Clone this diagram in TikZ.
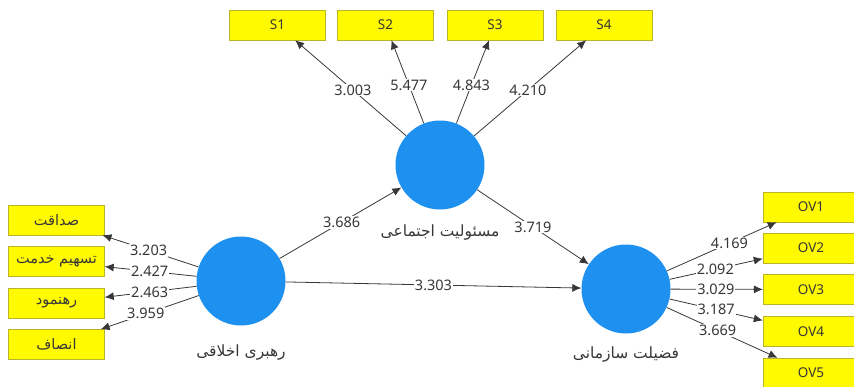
\documentclass[tikz,border=0pt]{standalone}
\usepackage{fontspec}
\setmainfont{Noto Sans}
\newfontfamily\farsi[Script=Arabic]{DejaVu Sans}
\TeXXeTstate=1
\usetikzlibrary{arrows.meta}
\definecolor{lvblue}{RGB}{30,144,240}
\definecolor{boxyellow}{RGB}{255,250,0}
\definecolor{boxedge}{RGB}{185,180,40}
\definecolor{inkgray}{RGB}{55,55,55}
\tikzset{
  latent/.style={circle, fill=lvblue, minimum size=89pt, inner sep=0pt},
  ind/.style={rectangle, fill=boxyellow, draw=boxedge, minimum width=96pt, minimum height=30pt, inner sep=0pt, font=\fontsize{13.5}{15}\selectfont, text=inkgray},
  indfa/.style={ind, font=\farsi\fontsize{14.5}{16}\selectfont},
  wt/.style={fill=white, inner sep=1pt, font=\fontsize{14.5}{16}\selectfont, text=inkgray},
  lvname/.style={font=\farsi\fontsize{15.5}{17}\selectfont, text=inkgray},
  path/.style={draw=inkgray, line width=0.8pt, -{Latex[length=9pt,width=8pt]}},
}
\begin{document}
\begin{tikzpicture}[x=1pt,y=1pt]
    \useasboundingbox (0,0) rectangle (854,-386);

    \node[latent] (lead) at (241,-281) {};
    \node[latent] (soc) at (440,-165) {};
    \node[latent] (virt) at (626,-289) {};

    \node[lvname] (leadname) at (241,-352) {\beginR رهبری اخلاقی\endR};
    \node[lvname] (socname) at (440,-232) {\beginR مسئولیت اجتماعی\endR};
    \node[lvname] (virtname) at (626,-354) {\beginR فضیلت سازمانی\endR};

    \node[ind] (s1) at (277.5,-25) {S1};
    \node[ind] (s2) at (385.5,-25) {S2};
    \node[ind] (s3) at (495,-25) {S3};
    \node[ind] (s4) at (604,-25) {S4};

    \node[indfa] (e1) at (56.5,-220) {\beginR صداقت\endR};
    \node[indfa] (e2) at (56.5,-261.5) {\beginR تسهیم خدمت\endR};
    \node[indfa] (e3) at (56.5,-303) {\beginR رهنمود\endR};
    \node[indfa] (e4) at (56.5,-344.5) {\beginR انصاف\endR};

    \node[ind] (ov1) at (811,-207) {OV1};
    \node[ind] (ov2) at (811,-248) {OV2};
    \node[ind] (ov3) at (811,-289.5) {OV3};
    \node[ind] (ov4) at (811,-331.5) {OV4};
    \node[ind] (ov5) at (811,-373) {OV5};

    % outer weights
    \draw[path] (soc) -- node[wt,pos=0.48] {3.003} (s1);
    \draw[path] (soc) -- node[wt,pos=0.46] {5.477} (s2);
    \draw[path] (soc) -- node[wt,pos=0.46] {4.843} (s3);
    \draw[path] (soc) -- node[wt,pos=0.48] {4.210} (s4);

    \draw[path] (lead) -- node[wt,pos=0.52] {3.203} (e1);
    \draw[path] (lead) -- node[wt,pos=0.51] {2.427} (e2);
    \draw[path] (lead) -- node[wt,pos=0.51] {2.463} (e3);
    \draw[path] (lead) -- node[wt,pos=0.54] {3.959} (e4);

    \draw[path] (virt) -- node[wt,pos=0.57] {4.169} (ov1);
    \draw[path] (virt) -- node[wt,pos=0.49] {2.092} (ov2);
    \draw[path] (virt) -- node[wt,pos=0.49] {3.029} (ov3);
    \draw[path] (virt) -- node[wt,pos=0.50] {3.187} (ov4);
    \draw[path] (virt) -- node[wt,pos=0.46] {3.669} (ov5);

    % inner model
    \draw[path] (lead) -- node[wt,pos=0.51] {3.686} (soc);
    \draw[path] (soc) -- node[wt,pos=0.5] {3.719} (virt);
    \draw[path] (lead) -- node[wt,pos=0.5] {3.303} (virt);

\end{tikzpicture}
\end{document}
